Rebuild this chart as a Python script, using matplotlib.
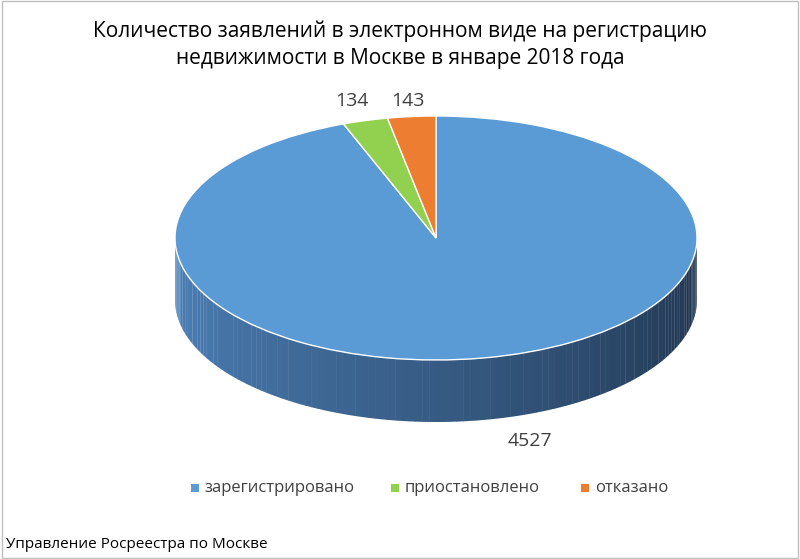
import numpy as np
import matplotlib
matplotlib.use("Agg")
import matplotlib.pyplot as plt
from matplotlib.patches import Polygon, Rectangle

plt.rcParams['font.family'] = ['Open Sans', 'DejaVu Sans']

categories = ["зарегистрировано", "приостановлено", "отказано"]
values = [4527, 134, 143]
colors = ["#5b9bd5", "#92d050", "#ed7d31"]
title = "Количество заявлений в электронном виде на регистрацию\nнедвижимости в Москве в январе 2018 года"
footer = "Управление Росреестра по Москве"

W, H = 800, 559
fig = plt.figure(figsize=(W/100, H/100), dpi=100)
fig.patches.append(Rectangle((0.002, 0.002), 0.996, 0.996, transform=fig.transFigure,
                             fill=False, edgecolor="#bfbfbf", lw=1))

# pie axes: top ellipse px x 175..697, y 116..360, depth 62
x0, x1, yt, yb, depth = 175, 697, 116, 360, 62
d = 2 * depth / (yb - yt)
ax = fig.add_axes([x0/W, 1-(yb+depth)/H, (x1-x0)/W, (yb+depth-yt)/H])
ax.set_xlim(-1, 1); ax.set_ylim(-1-d, 1); ax.axis('off')

# side of the blue slice (front half)
side_a = np.linspace(np.pi, 2*np.pi, 121)
c0 = np.array([0x4f, 0x84, 0xbd]) / 255
c1 = np.array([0x1e, 0x32, 0x4a]) / 255
for i in range(len(side_a)-1):
    a0, a1 = side_a[i], side_a[i+1] + 0.002
    t = i / (len(side_a)-2)
    col = c0 + (c1 - c0) * t
    pts = [(np.cos(a0), np.sin(a0)), (np.cos(a1), np.sin(a1)),
           (np.cos(a1), np.sin(a1)-d), (np.cos(a0), np.sin(a0)-d)]
    ax.add_patch(Polygon(pts, closed=True, facecolor=col, edgecolor='none'))

ax.pie(values, colors=colors, startangle=90, counterclock=False, radius=1,
       wedgeprops=dict(edgecolor='white', linewidth=1))
ax.set_aspect('auto')
ax.set_xlim(-1, 1); ax.set_ylim(-1-d, 1)

fig.text(0.5, 1-45/H, title, ha='center', va='center', fontsize=15, color='black', linespacing=1.4)
fig.text(352/W, 1-101/H, str(values[1]), ha='center', va='center', fontsize=14, color='#404040')
fig.text(408/W, 1-101/H, str(values[2]), ha='center', va='center', fontsize=14, color='#404040')
fig.text(530/W, 1-441/H, str(values[0]), ha='center', va='center', fontsize=14, color='#404040')

# legend
lx = [191, 391, 581]
for x, c, lab in zip(lx, colors, categories):
    fig.patches.append(Rectangle((x/W, 1-492/H), 8/W, 8/H, transform=fig.transFigure,
                                 facecolor=c, edgecolor='none'))
    fig.text((x+14)/W, 1-488/H, lab, ha='left', va='center', fontsize=12, color='#404040')

fig.text(6/W, 1-544/H, footer, ha='left', va='center', fontsize=11, color='black')
fig.savefig("out.png", dpi=100)
